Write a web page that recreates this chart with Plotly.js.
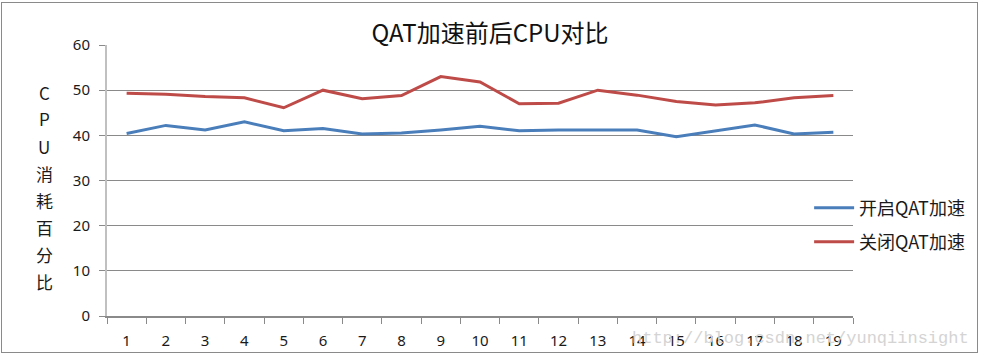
<!DOCTYPE html>
<html>
<head>
<meta charset="utf-8">
<script src="https://cdn.plot.ly/plotly-3.0.1.min.js"></script>
<style>
html,body{margin:0;padding:0;background:#fff;}
#wrap{position:relative;width:982px;height:358px;}
#chart{width:982px;height:358px;}
#frame{position:absolute;left:1px;top:2px;width:977px;height:351px;border:1.5px solid #8a8a8a;box-sizing:border-box;pointer-events:none;}
</style>
</head>
<body>
<div id="wrap"><div id="chart"></div><div id="frame"></div></div>
<script>
const categories = ["1","2","3","4","5","6","7","8","9","10","11","12","13","14","15","16","17","18","19"];
const seriesOn = [40.4,42.2,41.2,43.0,41.0,41.5,40.3,40.5,41.2,42.0,41.0,41.2,41.2,41.2,39.7,41.0,42.3,40.3,40.7];
const seriesOff = [49.3,49.1,48.6,48.3,46.1,50.0,48.1,48.8,53.0,51.8,47.0,47.1,50.0,48.9,47.5,46.7,47.2,48.3,48.8];
const seriesNames = ["开启QAT加速","关闭QAT加速"];
const titleText = "QAT加速前后CPU对比";
const yTitleChars = ["C","P","U","消","耗","百","分","比"];
const watermark = "http://blog.csdn.net/yunqiinsight";

const baseFont = {family:"Noto Sans, Noto Sans CJK SC, sans-serif", size:15, color:"#1a1a1a"};

const traces = [
  {x:categories, y:seriesOn, name:seriesNames[0], type:"scatter", mode:"lines",
   line:{color:"#4a7ebb", width:3}, legend:"legend"},
  {x:categories, y:seriesOff, name:seriesNames[1], type:"scatter", mode:"lines",
   line:{color:"#be4b48", width:3}, legend:"legend2"}
];

const annotations = yTitleChars.map((c,i)=>({
  text:c, xref:"paper", yref:"paper", x:-0.084, y:(316-92-i*27)/271,
  xanchor:"center", yanchor:"middle", showarrow:false,
  font:{family:"Noto Sans CJK SC, sans-serif", size:17, color:"#1a1a1a"}
}));
annotations.push({
  text:watermark, xref:"paper", yref:"paper", x:(973-107)/748, y:(316-338)/271,
  xanchor:"right", yanchor:"middle", showarrow:false,
  font:{family:"Liberation Mono, DejaVu Sans Mono, monospace", size:17, color:"#d4d4d4"}
});

const legendCommon = {
  xanchor:"left", yanchor:"middle", bgcolor:"rgba(0,0,0,0)", itemwidth:40,
  font:{family:"Noto Sans CJK SC, sans-serif", size:18, color:"#1a1a1a"}
};

const layout = {
  width:982, height:358,
  margin:{l:107, r:127, t:45, b:42},
  paper_bgcolor:"#fff", plot_bgcolor:"#fff",
  font:baseFont,
  title:{text:titleText, xref:"container", yref:"container", x:0.499, y:1-34/358,
         xanchor:"center", yanchor:"middle",
         font:{family:"Noto Sans CJK SC, sans-serif", size:24, color:"#111"}},
  xaxis:{type:"category", tickson:"boundaries", ticks:"outside", ticklen:6, tickcolor:"#8a8a8a",
         showline:true, linecolor:"#8a8a8a", linewidth:1.5, showgrid:false, zeroline:false,
         tickfont:baseFont, range:[-0.5,18.5], ticklabelstandoff:10},
  yaxis:{range:[0,60], dtick:10, ticks:"outside", ticklen:6, tickcolor:"#8a8a8a",
         showline:true, linecolor:"#c0c0c0", linewidth:2, showgrid:true, gridcolor:"#8a8a8a",
         gridwidth:1, zeroline:false, tickfont:baseFont, ticklabelstandoff:6},
  showlegend:true,
  legend:Object.assign({x:(811-107)/748, y:(316-208)/271}, legendCommon),
  legend2:Object.assign({x:(811-107)/748, y:(316-242)/271}, legendCommon),
  annotations:annotations
};

Plotly.newPlot("chart", traces, layout, {displayModeBar:false, staticPlot:true});
</script>
</body>
</html>
